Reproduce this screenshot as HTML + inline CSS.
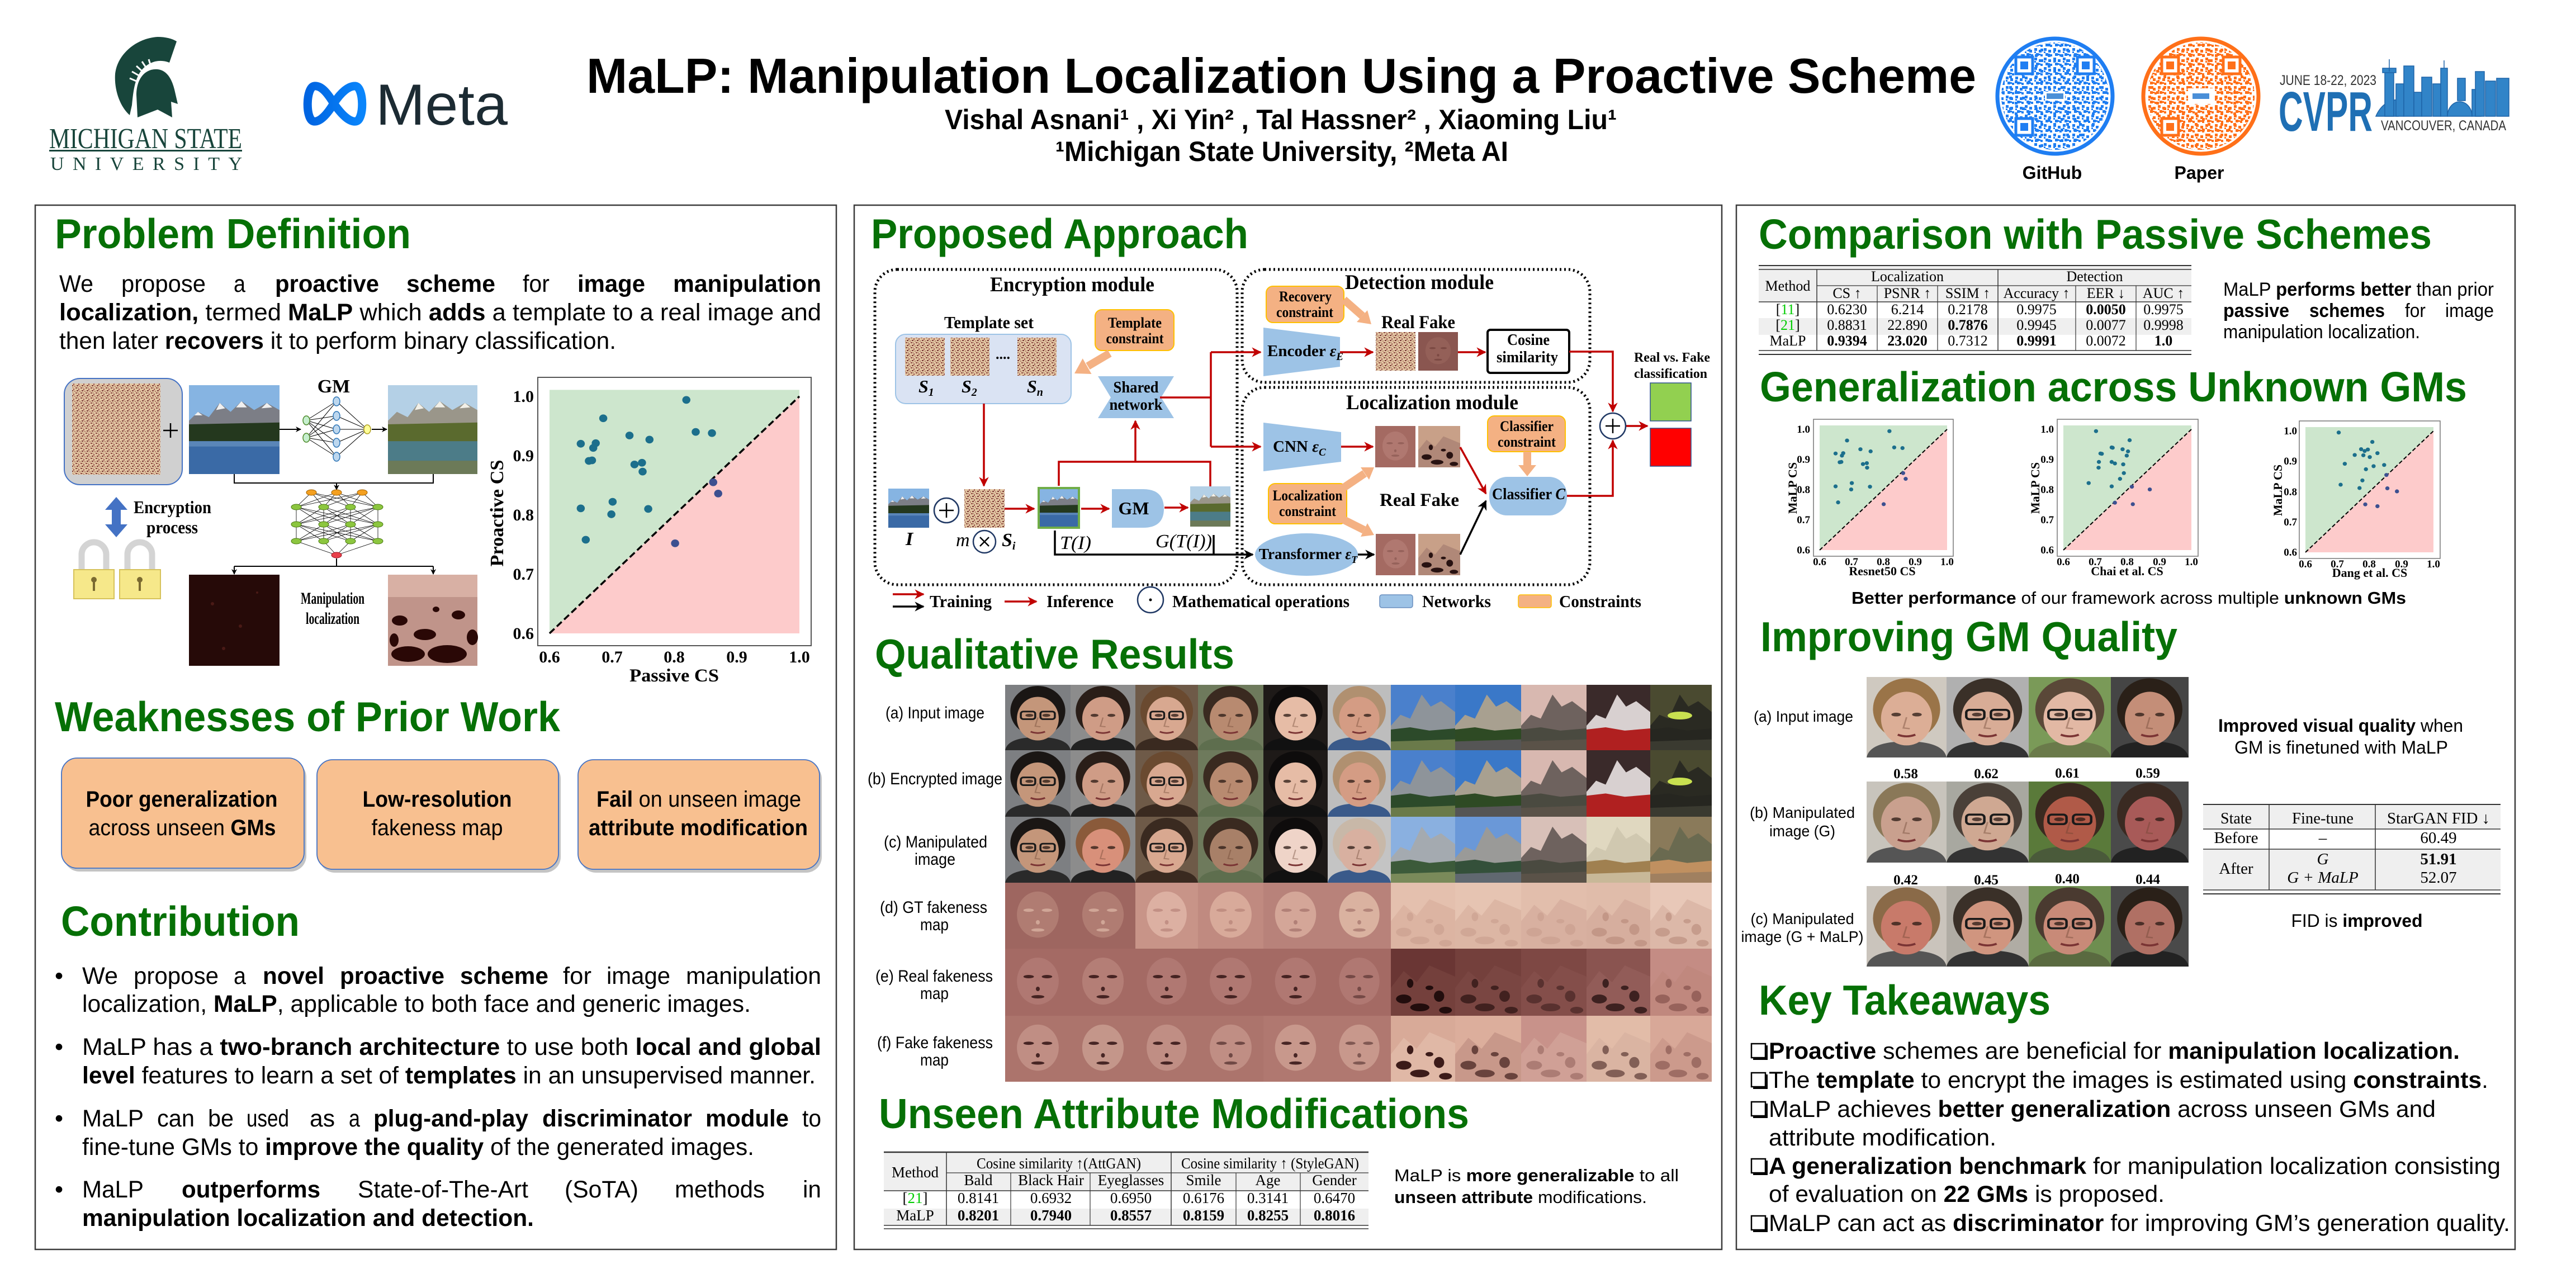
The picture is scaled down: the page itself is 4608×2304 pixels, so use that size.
<!DOCTYPE html>
<html><head><meta charset="utf-8"><title>MaLP poster</title>
<style>
html,body{margin:0;padding:0;background:#fff;}
svg{display:block;}
.s{font-family:"Liberation Sans",Arial,sans-serif;}
.r{font-family:"Liberation Serif","Times New Roman",serif;}
.h{font-family:"Liberation Sans",Arial,sans-serif;font-weight:bold;fill:#067006;font-size:75px;}
.b{font-weight:bold;}
.i{font-style:italic;}
</style></head><body>
<svg width="4608" height="2304" viewBox="0 0 4608 2304" xmlns="http://www.w3.org/2000/svg" xmlns:xlink="http://www.w3.org/1999/xlink">
<defs>
<linearGradient id="mg" x1="0" y1="0" x2="1" y2="0"><stop offset="0" stop-color="#0064e1"/><stop offset="1" stop-color="#0a85fb"/></linearGradient>
<pattern id="nz" width="9" height="9" patternUnits="userSpaceOnUse">
<rect width="9" height="9" fill="#e2c6a2"/>
<rect x="0" y="0" width="3" height="2" fill="#8e4a44"/>
<rect x="5" y="2" width="2" height="3" fill="#a2605a"/>
<rect x="2" y="5" width="3" height="2" fill="#7a3a36"/>
<rect x="7" y="6" width="2" height="2" fill="#b07868"/>
<rect x="4" y="0" width="1" height="1" fill="#6a2e2a"/>
</pattern>
<pattern id="qb" width="17" height="17" patternUnits="userSpaceOnUse">
<rect x="1" y="1" width="5" height="5" fill="#1f7ef2"/><rect x="9" y="4" width="5" height="5" fill="#1f7ef2"/>
<rect x="4" y="10" width="5" height="5" fill="#1f7ef2"/><rect x="12" y="12" width="4" height="4" fill="#1f7ef2"/>
<rect x="9" y="11" width="3" height="3" fill="#1f7ef2"/><rect x="1" y="7" width="3" height="3" fill="#1f7ef2"/>
</pattern>
<pattern id="qb2" width="23" height="19" patternUnits="userSpaceOnUse">
<rect x="6" y="2" width="5" height="5" fill="#1f7ef2"/><rect x="16" y="11" width="5" height="5" fill="#1f7ef2"/>
</pattern>
<pattern id="qo" width="17" height="17" patternUnits="userSpaceOnUse">
<rect x="1" y="1" width="5" height="5" fill="#ff7019"/><rect x="9" y="4" width="5" height="5" fill="#ff7019"/>
<rect x="4" y="10" width="5" height="5" fill="#ff7019"/><rect x="12" y="12" width="4" height="4" fill="#ff7019"/>
<rect x="9" y="11" width="3" height="3" fill="#ff7019"/><rect x="1" y="7" width="3" height="3" fill="#ff7019"/>
</pattern>
<pattern id="qo2" width="23" height="19" patternUnits="userSpaceOnUse">
<rect x="6" y="2" width="5" height="5" fill="#ff7019"/><rect x="16" y="11" width="5" height="5" fill="#ff7019"/>
</pattern>
<clipPath id="qc1"><circle cx="3676" cy="172" r="96"/></clipPath>
<clipPath id="qc2"><circle cx="3937" cy="172" r="96"/></clipPath>

<symbol id="face" viewBox="0 0 100 120" preserveAspectRatio="none">
<rect width="100" height="120" style="fill:var(--bg)"/>
<ellipse cx="50" cy="48" rx="42" ry="46" style="fill:var(--hair)"/>
<path d="M0 120 Q4 96 50 96 Q96 96 100 120Z" style="fill:var(--cloth)"/>
<ellipse cx="50" cy="62" rx="32" ry="40" style="fill:var(--skin)"/>
<g fill="#2a1a14" opacity=".75"><ellipse cx="37" cy="56" rx="6" ry="2.8"/><ellipse cx="63" cy="56" rx="6" ry="2.8"/></g>
<path d="M50 60 L46 76 L54 77" stroke="#6a4030" stroke-width="2" fill="none" opacity=".4"/>
<path d="M39 86 Q50 91 61 86" stroke="#7a3434" stroke-width="3" fill="none"/>
<g fill="none" stroke-width="3" style="stroke:#1a1a1a;stroke-opacity:var(--gl,0)"><rect x="24" y="49" width="22" height="14" rx="4"/><rect x="54" y="49" width="22" height="14" rx="4"/></g>
</symbol>
<symbol id="land" viewBox="0 0 100 120" preserveAspectRatio="none">
<rect width="100" height="120" style="fill:var(--sky)"/>
<path d="M0 75 L15 55 L30 62 L48 18 L62 40 L78 30 L100 50 L100 120 L0 120Z" style="fill:var(--rock)"/>
<path d="M0 82 L30 78 L60 84 L100 80 L100 120 L0 120Z" style="fill:var(--tree)"/>
<path d="M0 104 L100 100 L100 120 L0 120Z" style="fill:var(--gnd)"/>
</symbol>
<symbol id="lake" viewBox="0 0 100 100" preserveAspectRatio="none">
<rect width="100" height="62" fill="#86b4e2"/>
<path d="M0 40 L10 30 L22 36 L34 20 L46 30 L58 18 L72 28 L86 20 L100 28 L100 60 L0 60Z" fill="#7c7e86"/>
<path d="M34 20 L40 26 L30 28Z M58 18 L64 25 L52 25Z M86 20 L92 25 L80 26Z M10 30 L15 34 L6 34Z" fill="#f0f0f0"/>
<path d="M0 44 L100 42 L100 64 L0 64Z" fill="#24381e"/>
<rect y="63" width="100" height="37" fill="#3a6aa6"/>
<rect y="63" width="100" height="6" fill="#5a86b8"/>
</symbol>
<symbol id="lake2" viewBox="0 0 100 100" preserveAspectRatio="none">
<rect width="100" height="62" fill="#b4d0e6"/>
<path d="M0 40 L10 30 L22 36 L34 20 L46 30 L58 18 L72 28 L86 20 L100 28 L100 60 L0 60Z" fill="#9a968a"/>
<path d="M34 20 L40 26 L30 28Z M58 18 L64 25 L52 25Z M86 20 L92 25 L80 26Z" fill="#f2f0e8"/>
<path d="M0 44 L100 42 L100 64 L0 64Z" fill="#5a6a2e"/>
<rect y="63" width="100" height="37" fill="#4c7c88"/>
<rect y="85" width="100" height="15" fill="#6c7a58"/>
</symbol>
<symbol id="pm" viewBox="0 0 100 120" preserveAspectRatio="none">
<rect width="100" height="120" style="fill:var(--base)"/>
<ellipse cx="50" cy="58" rx="32" ry="42" style="fill:var(--lt)"/>
<g style="fill:var(--dk);fill-opacity:var(--o,0.9)">
<ellipse cx="36" cy="50" rx="8" ry="3"/><ellipse cx="64" cy="50" rx="8" ry="3"/>
<ellipse cx="50" cy="72" rx="3" ry="4"/><ellipse cx="50" cy="86" rx="10" ry="3"/>
</g>
</symbol>
<symbol id="pl" viewBox="0 0 100 120" preserveAspectRatio="none">
<rect width="100" height="120" style="fill:var(--base)"/>
<path d="M0 70 L20 40 L40 60 L60 30 L100 50 L100 120 L0 120Z" style="fill:var(--lt)"/>
<g style="fill:var(--dk);fill-opacity:var(--o,0.9)">
<ellipse cx="20" cy="90" rx="12" ry="8"/><ellipse cx="45" cy="105" rx="15" ry="7"/><ellipse cx="75" cy="85" rx="8" ry="10"/><ellipse cx="85" cy="110" rx="10" ry="6"/><ellipse cx="30" cy="62" rx="5" ry="8"/><ellipse cx="60" cy="70" rx="6" ry="4"/>
</g>
</symbol>

<marker id="ar" viewBox="0 0 10 10" refX="9" refY="5" markerWidth="5" markerHeight="5" orient="auto" markerUnits="strokeWidth"><path d="M0 0 L10 5 L0 10 L3 5Z" fill="#c00000"/></marker>
<marker id="ak" viewBox="0 0 10 10" refX="9" refY="5" markerWidth="5" markerHeight="5" orient="auto" markerUnits="strokeWidth"><path d="M0 0 L10 5 L0 10 L3 5Z" fill="#000"/></marker>

<g id="pts1">
<g fill="#1c6f8c">
<circle cx="0.819" cy="0.994" r="0.0065"/><circle cx="0.686" cy="0.963" r="0.0065"/><circle cx="0.728" cy="0.934" r="0.0065"/>
<circle cx="0.760" cy="0.927" r="0.0065"/><circle cx="0.834" cy="0.940" r="0.0065"/><circle cx="0.860" cy="0.938" r="0.0065"/>
<circle cx="0.650" cy="0.920" r="0.0065"/><circle cx="0.674" cy="0.921" r="0.0065"/><circle cx="0.670" cy="0.913" r="0.0065"/>
<circle cx="0.663" cy="0.891" r="0.0065"/><circle cx="0.668" cy="0.892" r="0.0065"/><circle cx="0.736" cy="0.885" r="0.0065"/>
<circle cx="0.748" cy="0.888" r="0.0065"/><circle cx="0.749" cy="0.873" r="0.0065"/><circle cx="0.650" cy="0.811" r="0.0065"/>
<circle cx="0.701" cy="0.822" r="0.0065"/><circle cx="0.699" cy="0.801" r="0.0065"/><circle cx="0.758" cy="0.810" r="0.0065"/>
<circle cx="0.658" cy="0.758" r="0.0065"/>
</g>
<g fill="#3c5090">
<circle cx="0.801" cy="0.752" r="0.0065"/><circle cx="0.862" cy="0.855" r="0.0065"/><circle cx="0.870" cy="0.836" r="0.0065"/>
</g>
</g>
<g id="pts2">
<g fill="#1c6f8c">
<circle cx="0.702" cy="0.994" r="0.0065"/><circle cx="0.807" cy="0.964" r="0.0065"/><circle cx="0.754" cy="0.939" r="0.0065"/>
<circle cx="0.751" cy="0.940" r="0.0065"/><circle cx="0.785" cy="0.934" r="0.0065"/><circle cx="0.802" cy="0.927" r="0.0065"/>
<circle cx="0.716" cy="0.920" r="0.0065"/><circle cx="0.720" cy="0.919" r="0.0065"/><circle cx="0.798" cy="0.913" r="0.0065"/>
<circle cx="0.711" cy="0.892" r="0.0065"/><circle cx="0.751" cy="0.892" r="0.0065"/><circle cx="0.761" cy="0.887" r="0.0065"/>
<circle cx="0.787" cy="0.884" r="0.0065"/><circle cx="0.710" cy="0.873" r="0.0065"/><circle cx="0.789" cy="0.855" r="0.0065"/>
<circle cx="0.777" cy="0.836" r="0.0065"/><circle cx="0.679" cy="0.822" r="0.0065"/><circle cx="0.751" cy="0.811" r="0.0065"/>
</g>
<g fill="#3c5090">
<circle cx="0.814" cy="0.810" r="0.0065"/><circle cx="0.870" cy="0.801" r="0.0065"/><circle cx="0.761" cy="0.757" r="0.0065"/><circle cx="0.817" cy="0.752" r="0.0065"/>
</g>
</g>
<g id="pts3">
<g fill="#1c6f8c">
<circle cx="0.704" cy="0.995" r="0.0065"/><circle cx="0.809" cy="0.964" r="0.0065"/><circle cx="0.774" cy="0.940" r="0.0065"/>
<circle cx="0.795" cy="0.939" r="0.0065"/><circle cx="0.785" cy="0.934" r="0.0065"/><circle cx="0.825" cy="0.927" r="0.0065"/>
<circle cx="0.754" cy="0.921" r="0.0065"/><circle cx="0.781" cy="0.920" r="0.0065"/><circle cx="0.801" cy="0.914" r="0.0065"/>
<circle cx="0.723" cy="0.892" r="0.0065"/><circle cx="0.813" cy="0.884" r="0.0065"/><circle cx="0.846" cy="0.888" r="0.0065"/>
<circle cx="0.789" cy="0.874" r="0.0065"/><circle cx="0.778" cy="0.837" r="0.0065"/><circle cx="0.710" cy="0.823" r="0.0065"/>
<circle cx="0.769" cy="0.812" r="0.0065"/>
</g>
<g fill="#3c5090">
<circle cx="0.853" cy="0.855" r="0.0065"/><circle cx="0.856" cy="0.811" r="0.0065"/><circle cx="0.886" cy="0.801" r="0.0065"/>
<circle cx="0.787" cy="0.758" r="0.0065"/><circle cx="0.825" cy="0.752" r="0.0065"/>
</g>
</g>
</defs>

<rect width="4608" height="2304" fill="#fff"/>

<!-- ================= HEADER ================= -->
<g fill="#18453b">
<path d="M316 74 L303 112 C283 104 262 112 250 130 C240 146 238 168 236 188 L232 206 C214 190 204 160 206 132 C210 96 245 68 282 66 C296 66 308 69 316 74Z"/>
<path d="M246 210 L244 170 C244 138 262 122 282 124 C300 126 308 144 312 160 L318 186 L306 182 L308 210 L282 196 Z"/>
</g>
<g stroke="#fff" stroke-width="3"><path d="M232 140 L246 146 M236 128 L250 136 M244 118 L255 128 M254 110 L262 122 M266 106 L270 119"/></g>
<text x="88" y="265" class="r" font-size="52" fill="#18453b" textLength="345" lengthAdjust="spacingAndGlyphs">MICHIGAN STATE</text>
<rect x="88" y="268" width="345" height="3" fill="#18453b"/>
<text x="90" y="304" class="r" font-size="34" fill="#18453b" textLength="343" lengthAdjust="spacing">UNIVERSITY</text>

<path d="M597 185 C582 160 572 153 562 154 C547 156 546 214 561 217 C572 219 585 205 597 185 C610 165 624 153 636 154 C651 156 652 214 637 217 C625 219 611 205 597 185 Z" fill="none" stroke="url(#mg)" stroke-width="15" stroke-linejoin="round"/>
<text x="672" y="223" class="s" font-size="104" fill="#1c2b33" textLength="236" lengthAdjust="spacingAndGlyphs">Meta</text>

<text x="1049" y="166" class="s b" font-size="88" textLength="2486" lengthAdjust="spacingAndGlyphs">MaLP: Manipulation Localization Using a Proactive Scheme</text>
<text x="1690" y="231" class="s b" font-size="50" textLength="1202" lengthAdjust="spacingAndGlyphs">Vishal Asnani¹ , Xi Yin² , Tal Hassner² , Xiaoming Liu¹</text>
<text x="1888" y="288" class="s b" font-size="50" textLength="810" lengthAdjust="spacingAndGlyphs">¹Michigan State University, ²Meta AI</text>

<!-- QR GitHub -->
<rect x="3570" y="66" width="212" height="212" fill="url(#qb)" clip-path="url(#qc1)"/>
<rect x="3570" y="66" width="212" height="212" fill="url(#qb2)" clip-path="url(#qc1)"/>
<circle cx="3676" cy="172" r="103" fill="none" stroke="#1f7ef2" stroke-width="7"/>
<g fill="#fff" stroke="#1f7ef2" stroke-width="5">
<rect x="3606" y="102" width="30" height="30"/><rect x="3716" y="102" width="30" height="30"/><rect x="3606" y="212" width="30" height="30"/>
</g>
<g fill="#1f7ef2"><rect x="3614" y="110" width="14" height="14"/><rect x="3724" y="110" width="14" height="14"/><rect x="3614" y="220" width="14" height="14"/></g>
<rect x="3658" y="164" width="36" height="16" fill="#fff"/><rect x="3661" y="167" width="30" height="10" fill="#4a8fd8"/>
<!-- QR Paper -->
<rect x="3831" y="66" width="212" height="212" fill="url(#qo)" clip-path="url(#qc2)"/>
<rect x="3831" y="66" width="212" height="212" fill="url(#qo2)" clip-path="url(#qc2)"/>
<circle cx="3937" cy="172" r="103" fill="none" stroke="#ff7019" stroke-width="7"/>
<g fill="#fff" stroke="#ff7019" stroke-width="5">
<rect x="3867" y="102" width="30" height="30"/><rect x="3977" y="102" width="30" height="30"/><rect x="3867" y="212" width="30" height="30"/>
</g>
<g fill="#ff7019"><rect x="3875" y="110" width="14" height="14"/><rect x="3985" y="110" width="14" height="14"/><rect x="3875" y="220" width="14" height="14"/></g>
<rect x="3914" y="158" width="48" height="28" fill="#fff"/><rect x="3922" y="167" width="30" height="10" fill="#4a8fd8"/>
<text x="3671" y="320" text-anchor="middle" class="s b" font-size="32">GitHub</text>
<text x="3934" y="320" text-anchor="middle" class="s b" font-size="32">Paper</text>

<!-- CVPR -->
<text x="4078" y="152" class="s" font-size="25" fill="#333" textLength="173" lengthAdjust="spacingAndGlyphs">JUNE 18-22, 2023</text>
<text x="4076" y="234" class="s b" font-size="100" fill="#1f6fb4" textLength="168" lengthAdjust="spacingAndGlyphs">CVPR</text>
<g fill="#3184c8" stroke="#1f64a8" stroke-width="1.5">
<path d="M4250 208 Q4262 180 4290 178 L4290 208Z"/>
<rect x="4266" y="128" width="16" height="80"/>
<rect x="4262" y="122" width="24" height="8"/>
<rect x="4286" y="150" width="14" height="58"/>
<rect x="4300" y="118" width="18" height="90"/>
<rect x="4318" y="165" width="14" height="43"/>
<rect x="4332" y="138" width="18" height="70"/>
<rect x="4352" y="150" width="14" height="58"/>
<rect x="4366" y="122" width="12" height="86"/>
<path d="M4378 208 A22 26 0 0 1 4422 208Z"/>
<rect x="4396" y="140" width="14" height="40"/>
<rect x="4422" y="160" width="16" height="48"/>
<rect x="4428" y="128" width="16" height="80"/>
<rect x="4446" y="145" width="18" height="63"/>
<rect x="4466" y="140" width="22" height="68"/>
<path d="M4274 128 V106 M4372 122 V108" fill="none"/>
</g>
<text x="4259" y="233" class="s" font-size="25" fill="#333" textLength="224" lengthAdjust="spacingAndGlyphs">VANCOUVER, CANADA</text>

<!-- ================= PANELS ================= -->
<g fill="none" stroke="#3c3c3c" stroke-width="2.5">
<rect x="63" y="367" width="1433" height="1868"/>
<rect x="1528" y="367" width="1552" height="1868"/>
<rect x="3106" y="367" width="1393" height="1868"/>
</g>

<!-- ================= LEFT PANEL ================= -->
<text class="h" x="98" y="444" textLength="637" lengthAdjust="spacingAndGlyphs">Problem Definition</text>
<g class="s" font-size="43">
<text x="106" y="522" textLength="61" lengthAdjust="spacingAndGlyphs">We</text>
<text x="217" y="522" textLength="151" lengthAdjust="spacingAndGlyphs">propose</text>
<text x="418" y="522" textLength="21" lengthAdjust="spacingAndGlyphs">a</text>
<text x="492" y="522" class="b" textLength="186" lengthAdjust="spacingAndGlyphs">proactive</text>
<text x="727" y="522" class="b" textLength="159" lengthAdjust="spacingAndGlyphs">scheme</text>
<text x="935" y="522" textLength="48" lengthAdjust="spacingAndGlyphs">for</text>
<text x="1033" y="522" class="b" textLength="121" lengthAdjust="spacingAndGlyphs">image</text>
<text x="1204" y="522" class="b" textLength="265" lengthAdjust="spacingAndGlyphs">manipulation</text>
<text x="106" y="573" textLength="1363" lengthAdjust="spacingAndGlyphs"><tspan font-weight="bold">localization,</tspan> termed <tspan font-weight="bold">MaLP</tspan> which <tspan font-weight="bold">adds</tspan> a template to a real image and</text>
<text x="106" y="624" textLength="996" lengthAdjust="spacingAndGlyphs">then later <tspan font-weight="bold">recovers</tspan> it to perform binary classification.</text>
</g>

<!-- figure -->
<rect x="115" y="677" width="211" height="190" rx="28" fill="#d0d0d0" stroke="#4472c4" stroke-width="2"/>
<rect x="129" y="686" width="158" height="163" fill="url(#nz)"/>
<path d="M292 770 H318 M305 757 V783" stroke="#000" stroke-width="2.5"/>
<use href="#lake" x="338" y="689" width="162" height="159"/>
<use href="#lake2" x="694" y="689" width="160" height="159"/>
<text x="597" y="702" text-anchor="middle" class="r b" font-size="34">GM</text>
<g stroke="#000" stroke-width="1">
<path d="M548 752L602 718M548 752L602 744M548 752L602 768M548 752L602 792M548 752L602 817M548 783L602 718M548 783L602 744M548 783L602 768M548 783L602 792M548 783L602 817M602 718L657 768M602 744L657 768M602 768L657 768M602 792L657 768M602 817L657 768"/>
</g>
<g stroke-width="1.5">
<ellipse cx="548" cy="752" rx="6" ry="8" fill="#c6efce" stroke="#4e8a2a"/><ellipse cx="548" cy="783" rx="6" ry="8" fill="#c6efce" stroke="#4e8a2a"/>
<ellipse cx="602" cy="718" rx="6" ry="8" fill="#bdd7ee" stroke="#2e75b6"/><ellipse cx="602" cy="744" rx="6" ry="8" fill="#bdd7ee" stroke="#2e75b6"/>
<ellipse cx="602" cy="768" rx="6" ry="8" fill="#bdd7ee" stroke="#2e75b6"/><ellipse cx="602" cy="792" rx="6" ry="8" fill="#bdd7ee" stroke="#2e75b6"/>
<ellipse cx="602" cy="817" rx="6" ry="8" fill="#bdd7ee" stroke="#2e75b6"/>
<ellipse cx="657" cy="768" rx="6" ry="8" fill="#ffff99" stroke="#b0a020"/>
</g>
<g stroke="#000" stroke-width="2" fill="none">
<path d="M500 768 H538" marker-end="url(#ak)"/>
<path d="M665 768 H692" marker-end="url(#ak)"/>
<path d="M419 848 V864 H775 V848"/>
<path d="M602 864 V876" marker-end="url(#ak)"/>
<path d="M602 999 V1013 M419 1013 H775"/>
<path d="M419 1013 V1027" marker-end="url(#ak)"/>
<path d="M775 1013 V1027" marker-end="url(#ak)"/>
</g>
<g stroke="#000" stroke-width="0.8">
<path d="M557 881L530 907M557 881L579 907M557 881L627 907M557 881L676 907M602 881L530 907M602 881L579 907M602 881L627 907M602 881L676 907M648 881L530 907M648 881L579 907M648 881L627 907M648 881L676 907"/>
<path d="M530 907L530 938M530 907L579 938M530 907L627 938M530 907L676 938M579 907L530 938M579 907L579 938M579 907L627 938M579 907L676 938M627 907L530 938M627 907L579 938M627 907L627 938M627 907L676 938M676 907L530 938M676 907L579 938M676 907L627 938M676 907L676 938"/>
<path d="M530 938L530 968M530 938L579 968M530 938L627 968M530 938L676 968M579 938L530 968M579 938L579 968M579 938L627 968M579 938L676 968M627 938L530 968M627 938L579 968M627 938L627 968M627 938L676 968M676 938L530 968M676 938L579 968M676 938L627 968M676 938L676 968"/>
<path d="M530 968L602 993M579 968L602 993M627 968L602 993M676 968L602 993"/>
</g>
<g stroke-width="1">
<ellipse cx="557" cy="881" rx="9" ry="5" fill="#f4a020" stroke="#a06000"/><ellipse cx="602" cy="881" rx="9" ry="5" fill="#f4a020" stroke="#a06000"/><ellipse cx="648" cy="881" rx="9" ry="5" fill="#f4a020" stroke="#a06000"/>
<g fill="#8cc63f" stroke="#4a7a10">
<ellipse cx="530" cy="907" rx="9" ry="5"/><ellipse cx="579" cy="907" rx="9" ry="5"/><ellipse cx="627" cy="907" rx="9" ry="5"/><ellipse cx="676" cy="907" rx="9" ry="5"/>
<ellipse cx="530" cy="938" rx="9" ry="5"/><ellipse cx="579" cy="938" rx="9" ry="5"/><ellipse cx="627" cy="938" rx="9" ry="5"/><ellipse cx="676" cy="938" rx="9" ry="5"/>
<ellipse cx="530" cy="968" rx="9" ry="5"/><ellipse cx="579" cy="968" rx="9" ry="5"/><ellipse cx="627" cy="968" rx="9" ry="5"/><ellipse cx="676" cy="968" rx="9" ry="5"/>
</g>
<ellipse cx="602" cy="993" rx="9" ry="5" fill="#e8404a" stroke="#a01020"/>
</g>
<rect x="338" y="1028" width="162" height="163" fill="#260a08"/>
<g fill="#4a1a16"><circle cx="380" cy="1080" r="3"/><circle cx="430" cy="1120" r="3"/><circle cx="460" cy="1060" r="2"/><circle cx="400" cy="1160" r="3"/></g>
<rect x="694" y="1028" width="160" height="163" fill="#c0948a"/>
<rect x="694" y="1028" width="160" height="40" fill="#d8b0a4"/>
<g fill="#2a0806">
<ellipse cx="715" cy="1110" rx="14" ry="9"/><ellipse cx="760" cy="1135" rx="20" ry="10"/><ellipse cx="820" cy="1100" rx="12" ry="8"/>
<ellipse cx="730" cy="1170" rx="30" ry="14"/><ellipse cx="800" cy="1170" rx="35" ry="16"/><ellipse cx="845" cy="1140" rx="10" ry="14"/>
<ellipse cx="780" cy="1090" rx="6" ry="5"/><ellipse cx="705" cy="1145" rx="8" ry="12"/>
</g>
<text x="595" y="1080" text-anchor="middle" class="r b" font-size="30" textLength="114" lengthAdjust="spacingAndGlyphs">Manipulation</text>
<text x="595" y="1116" text-anchor="middle" class="r b" font-size="30" textLength="96" lengthAdjust="spacingAndGlyphs">localization</text>
<path d="M208 889 L228 912 L216 912 L216 938 L228 938 L208 961 L188 938 L200 938 L200 912 L188 912Z" fill="#4472c4"/>
<text x="239" y="918" class="r b" font-size="32" textLength="139" lengthAdjust="spacingAndGlyphs">Encryption</text>
<text x="308" y="954" text-anchor="middle" class="r b" font-size="32" textLength="92" lengthAdjust="spacingAndGlyphs">process</text>
<g fill="none" stroke="#d4d4d4" stroke-width="11">
<path d="M146 1019 V992 A22 22 0 0 1 190 992 V1019"/>
<path d="M228 1019 V992 A22 22 0 0 1 272 992 V1019"/>
</g>
<rect x="132" y="1019" width="72" height="52" fill="#f6e88a" stroke="#d6c25a" stroke-width="2"/>
<rect x="214" y="1019" width="73" height="52" fill="#f6e88a" stroke="#d6c25a" stroke-width="2"/>
<g fill="#7a6a30"><circle cx="168" cy="1037" r="5"/><rect x="166" y="1039" width="4" height="18"/><circle cx="250" cy="1037" r="5"/><rect x="248" y="1039" width="4" height="18"/></g>

<!-- main scatter plot -->
<rect x="962" y="675" width="489" height="480" fill="#fff" stroke="#555" stroke-width="2"/>
<g transform="translate(983,1133) scale(1117.5,-1060) translate(-0.6,-0.6)">
<polygon points="0.6,0.6 0.6,1.011 1,1.011 1,1" fill="#cde6cd"/>
<polygon points="0.6,0.6 1,1 1,0.6" fill="#fdcbcb"/>
</g>
<line x1="983" y1="1133" x2="1430" y2="709" stroke="#000" stroke-width="3.5" stroke-dasharray="12 6"/>
<g transform="translate(983,1133) scale(1117.5,-1060) translate(-0.6,-0.6)"><use href="#pts1"/></g>
<g class="r b" font-size="30" text-anchor="end">
<text x="955" y="719">1.0</text><text x="955" y="825">0.9</text><text x="955" y="931">0.8</text><text x="955" y="1037">0.7</text><text x="955" y="1143">0.6</text>
</g>
<g class="r b" font-size="30" text-anchor="middle">
<text x="983" y="1185">0.6</text><text x="1095" y="1185">0.7</text><text x="1206" y="1185">0.8</text><text x="1318" y="1185">0.9</text><text x="1430" y="1185">1.0</text>
</g>
<text x="1206" y="1219" text-anchor="middle" class="r b" font-size="33" textLength="160" lengthAdjust="spacingAndGlyphs">Passive CS</text>
<text transform="translate(900,918) rotate(-90)" text-anchor="middle" class="r b" font-size="34" textLength="191" lengthAdjust="spacingAndGlyphs">Proactive CS</text>

<text class="h" x="98" y="1308" textLength="904" lengthAdjust="spacingAndGlyphs">Weaknesses of Prior Work</text>
<g fill="#c4c4c4">
<rect x="114" y="1362" width="434" height="197" rx="28"/><rect x="571" y="1365" width="432" height="196" rx="28"/><rect x="1038" y="1365" width="432" height="196" rx="28"/>
</g>
<g fill="#f8c090" stroke="#4472c4" stroke-width="1.8">
<rect x="110" y="1356" width="434" height="197" rx="28"/><rect x="567" y="1359" width="432" height="196" rx="28"/><rect x="1034" y="1359" width="432" height="196" rx="28"/>
</g>
<g class="s" font-size="40" text-anchor="middle">
<text x="325" y="1443" class="b" textLength="343" lengthAdjust="spacingAndGlyphs">Poor generalization</text>
<text x="326" y="1494" textLength="335" lengthAdjust="spacingAndGlyphs">across unseen <tspan font-weight="bold">GMs</tspan></text>
<text x="782" y="1443" class="b" textLength="267" lengthAdjust="spacingAndGlyphs">Low-resolution</text>
<text x="782" y="1494" textLength="235" lengthAdjust="spacingAndGlyphs">fakeness map</text>
<text x="1250" y="1443" textLength="366" lengthAdjust="spacingAndGlyphs"><tspan font-weight="bold">Fail</tspan> on unseen image</text>
<text x="1249" y="1494" class="b" textLength="392" lengthAdjust="spacingAndGlyphs">attribute modification</text>
</g>

<text class="h" x="109" y="1674" textLength="427" lengthAdjust="spacingAndGlyphs">Contribution</text>
<g class="s" font-size="43">
<text x="98" y="1760">•</text><text x="98" y="1887">•</text><text x="98" y="2015">•</text><text x="98" y="2142">•</text>
<text x="147" y="1760" textLength="64" lengthAdjust="spacingAndGlyphs">We</text>
<text x="239" y="1760" textLength="152" lengthAdjust="spacingAndGlyphs">propose</text>
<text x="418" y="1760" textLength="22" lengthAdjust="spacingAndGlyphs">a</text>
<text x="470" y="1760" class="b" textLength="110" lengthAdjust="spacingAndGlyphs">novel</text>
<text x="608" y="1760" class="b" textLength="187" lengthAdjust="spacingAndGlyphs">proactive</text>
<text x="823" y="1760" class="b" textLength="158" lengthAdjust="spacingAndGlyphs">scheme</text>
<text x="1007" y="1760" textLength="51" lengthAdjust="spacingAndGlyphs">for</text>
<text x="1085" y="1760" textLength="114" lengthAdjust="spacingAndGlyphs">image</text>
<text x="1227" y="1760" textLength="242" lengthAdjust="spacingAndGlyphs">manipulation</text>
<text x="147" y="1810" textLength="1196" lengthAdjust="spacingAndGlyphs">localization, <tspan font-weight="bold">MaLP</tspan>, applicable to both face and generic images.</text>
<text x="147" y="1887" textLength="1322" lengthAdjust="spacingAndGlyphs">MaLP has a <tspan font-weight="bold">two-branch architecture</tspan> to use both <tspan font-weight="bold">local and global</tspan></text>
<text x="147" y="1938" textLength="1312" lengthAdjust="spacingAndGlyphs"><tspan font-weight="bold">level</tspan> features to learn a set of <tspan font-weight="bold">templates</tspan> in an unsupervised manner.</text>
<text x="147" y="2015" textLength="110" lengthAdjust="spacingAndGlyphs">MaLP</text>
<text x="281" y="2015" textLength="67" lengthAdjust="spacingAndGlyphs">can</text>
<text x="372" y="2015" textLength="46" lengthAdjust="spacingAndGlyphs">be</text>
<text x="441" y="2015" textLength="76" lengthAdjust="spacingAndGlyphs">used</text>
<text x="554" y="2015" textLength="45" lengthAdjust="spacingAndGlyphs">as</text>
<text x="624" y="2015" textLength="20" lengthAdjust="spacingAndGlyphs">a</text>
<text x="668" y="2015" class="b" textLength="277" lengthAdjust="spacingAndGlyphs">plug-and-play</text>
<text x="970" y="2015" class="b" textLength="268" lengthAdjust="spacingAndGlyphs">discriminator</text>
<text x="1262" y="2015" class="b" textLength="149" lengthAdjust="spacingAndGlyphs">module</text>
<text x="1435" y="2015" textLength="34" lengthAdjust="spacingAndGlyphs">to</text>
<text x="147" y="2066" textLength="1202" lengthAdjust="spacingAndGlyphs">fine-tune GMs to <tspan font-weight="bold">improve the quality</tspan> of the generated images.</text>
<text x="147" y="2142" textLength="110" lengthAdjust="spacingAndGlyphs">MaLP</text>
<text x="325" y="2142" class="b" textLength="248" lengthAdjust="spacingAndGlyphs">outperforms</text>
<text x="640" y="2142" textLength="305" lengthAdjust="spacingAndGlyphs">State-of-The-Art</text>
<text x="1010" y="2142" textLength="132" lengthAdjust="spacingAndGlyphs">(SoTA)</text>
<text x="1207" y="2142" textLength="161" lengthAdjust="spacingAndGlyphs">methods</text>
<text x="1436" y="2142" textLength="33" lengthAdjust="spacingAndGlyphs">in</text>
<text x="147" y="2193" class="b" textLength="808" lengthAdjust="spacingAndGlyphs">manipulation localization and detection.</text>
</g>

<!-- ================= MIDDLE PANEL ================= -->
<text class="h" x="1558" y="444" textLength="675" lengthAdjust="spacingAndGlyphs">Proposed Approach</text>

<g fill="none" stroke="#000" stroke-width="5" stroke-dasharray="3 5">
<rect x="1565" y="482" width="648" height="564" rx="40"/>
<rect x="2222" y="482" width="622" height="202" rx="40"/>
<rect x="2222" y="693" width="622" height="353" rx="40"/>
</g>
<g class="r b">
<text x="1771" y="521" font-size="37" textLength="294" lengthAdjust="spacingAndGlyphs">Encryption module</text>
<text x="2406" y="517" font-size="37" textLength="266" lengthAdjust="spacingAndGlyphs">Detection module</text>
<text x="2408" y="732" font-size="37" textLength="308" lengthAdjust="spacingAndGlyphs">Localization module</text>
<text x="1689" y="587" font-size="31" textLength="160" lengthAdjust="spacingAndGlyphs">Template set</text>
</g>
<rect x="1602" y="598" width="314" height="124" rx="18" fill="#dae3f3" stroke="#9dc3e6" stroke-width="2"/>
<rect x="1619" y="604" width="71" height="68" fill="url(#nz)"/>
<rect x="1700" y="604" width="70" height="68" fill="url(#nz)"/>
<rect x="1820" y="604" width="70" height="68" fill="url(#nz)"/>
<text x="1781" y="642" class="r b" font-size="26">....</text>
<g class="r b i" font-size="32">
<text x="1643" y="702">S<tspan font-size="20" dy="6">1</tspan></text>
<text x="1720" y="702">S<tspan font-size="20" dy="6">2</tspan></text>
<text x="1837" y="702">S<tspan font-size="20" dy="6">n</tspan></text>
</g>
<g fill="#f4b183" stroke="#ffc000" stroke-width="2">
<rect x="1959" y="554" width="141" height="73" rx="12"/>
<rect x="2265" y="512" width="139" height="65" rx="12"/>
<rect x="2661" y="744" width="139" height="64" rx="12"/>
<rect x="2269" y="865" width="140" height="72" rx="12"/>
</g>
<g class="r b" font-size="26" text-anchor="middle">
<text x="2030" y="586" textLength="96" lengthAdjust="spacingAndGlyphs">Template</text>
<text x="2030" y="614" textLength="103" lengthAdjust="spacingAndGlyphs">constraint</text>
<text x="2335" y="539" textLength="94" lengthAdjust="spacingAndGlyphs">Recovery</text>
<text x="2334" y="567" textLength="102" lengthAdjust="spacingAndGlyphs">constraint</text>
<text x="2731" y="771" textLength="96" lengthAdjust="spacingAndGlyphs">Classifier</text>
<text x="2731" y="799" textLength="104" lengthAdjust="spacingAndGlyphs">constraint</text>
<text x="2339" y="895" textLength="125" lengthAdjust="spacingAndGlyphs">Localization</text>
<text x="2339" y="923" textLength="102" lengthAdjust="spacingAndGlyphs">constraint</text>
</g>
<!-- orange arrows -->
<g stroke="#f4b183" stroke-width="14" fill="none">
<path d="M1985 632 L1946 655"/>
<path d="M2404 536 L2437 565"/>
<path d="M2732 808 L2732 832"/>
<path d="M2404 872 L2441 847"/>
<path d="M2404 930 L2440 948"/>
</g>
<g fill="#f4b183">
<polygon points="1922,668 1952.5,669 1936.7,641.2"/>
<polygon points="2453,580 2427,576 2446,555"/>
<polygon points="2716,832 2748,832 2732,852"/>
<polygon points="2458,836 2449,858 2434,836"/>
<polygon points="2458,957 2434,960 2446,936"/>
</g>
<!-- networks -->
<g fill="#9dc3e6">
<polygon points="1964,673 2100,673 2077,711 2100,748 1964,748 1987,711"/>
<path d="M1989 875 L2045 875 Q2082 875 2082 910 Q2082 944 2045 944 L1989 944 Z"/>
<polygon points="2260,586 2397,603 2397,656 2260,673"/>
<polygon points="2260,756 2399,773 2399,826 2260,843"/>
<rect x="2664" y="853" width="139" height="69" rx="32"/>
<ellipse cx="2337" cy="992" rx="92" ry="38"/>
</g>
<g class="r b" font-size="29">
<text x="2032" y="702" text-anchor="middle" textLength="81" lengthAdjust="spacingAndGlyphs">Shared</text>
<text x="2032" y="733" text-anchor="middle" textLength="95" lengthAdjust="spacingAndGlyphs">network</text>
<text x="2028" y="920" text-anchor="middle" font-size="32">GM</text>
<text x="2267" y="637">Encoder <tspan font-style="italic">ε</tspan><tspan font-size="19" dy="7" font-style="italic">E</tspan></text>
<text x="2277" y="808">CNN <tspan font-style="italic">ε</tspan><tspan font-size="19" dy="7" font-style="italic">C</tspan></text>
<text x="2669" y="893" textLength="131" lengthAdjust="spacingAndGlyphs">Classifier <tspan font-style="italic">C</tspan></text>
<text x="2252" y="1000" font-size="27">Transformer <tspan font-style="italic">ε</tspan><tspan font-size="18" dy="7" font-style="italic">T</tspan></text>
</g>
<!-- images diagram -->
<use href="#lake" x="1589" y="874" width="73" height="70"/>
<rect x="1725" y="875" width="72" height="69" fill="url(#nz)"/>
<rect x="1856" y="871" width="76" height="75" fill="#70ad47"/>
<use href="#lake" x="1860" y="875" width="68" height="67"/>
<use href="#lake2" x="2129" y="870" width="72" height="72"/>
<rect x="2461" y="594" width="71" height="69" fill="url(#nz)"/>
<use href="#pm" x="2537" y="594" width="71" height="69" style="--base:#8a5650;--lt:#946058;--dk:#6a3a36;--o:.6"/>
<use href="#pm" x="2460" y="762" width="72" height="74" style="--base:#a46a62;--lt:#b07870;--dk:#7a4a44;--o:.5"/>
<use href="#pl" x="2537" y="762" width="75" height="74" style="--base:#c8a088;--lt:#b08878;--dk:#1a0606"/>
<use href="#pm" x="2461" y="955" width="71" height="74" style="--base:#a46a62;--lt:#b07870;--dk:#7a4a44;--o:.5"/>
<use href="#pl" x="2537" y="955" width="75" height="74" style="--base:#c8a088;--lt:#b08878;--dk:#1a0606"/>
<g class="r b" font-size="33">
<text x="2471" y="587" textLength="132" lengthAdjust="spacingAndGlyphs">Real Fake</text>
<text x="2468" y="905" textLength="142" lengthAdjust="spacingAndGlyphs">Real  Fake</text>
</g>
<rect x="2661" y="590" width="146" height="77" rx="5" fill="#fff" stroke="#000" stroke-width="4"/>
<g class="r b" font-size="28" text-anchor="middle">
<text x="2734" y="617" textLength="76" lengthAdjust="spacingAndGlyphs">Cosine</text>
<text x="2732" y="648" textLength="110" lengthAdjust="spacingAndGlyphs">similarity</text>
</g>
<g class="r b" font-size="24">
<text x="2923" y="647" textLength="136" lengthAdjust="spacingAndGlyphs">Real vs. Fake</text>
<text x="2923" y="676" textLength="131" lengthAdjust="spacingAndGlyphs">classification</text>
</g>
<rect x="2952" y="685" width="73" height="68" fill="#92d050" stroke="#2f528f" stroke-width="1.5"/>
<rect x="2952" y="766" width="73" height="68" fill="#ff0000" stroke="#2f528f" stroke-width="1.5"/>
<!-- red connectors -->
<g stroke="#c00000" stroke-width="3.5" fill="none">
<path d="M1760 722 V869" marker-end="url(#ar)"/>
<path d="M1797 910 H1850" marker-end="url(#ar)"/>
<path d="M1934 910 H1984" marker-end="url(#ar)"/>
<path d="M2083 908 H2125" marker-end="url(#ar)"/>
<path d="M1894 869 V826 H2165 V870"/>
<path d="M2031 826 V753" marker-end="url(#ar)"/>
<path d="M2075 711 H2166 M2166 630 V799"/>
<path d="M2166 630 H2255" marker-end="url(#ar)"/>
<path d="M2166 799 H2255" marker-end="url(#ar)"/>
<path d="M2397 630 H2456" marker-end="url(#ar)"/>
<path d="M2608 630 H2657" marker-end="url(#ar)"/>
<path d="M2807 629 H2885 V736" marker-end="url(#ar)"/>
<path d="M2908 762 H2947" marker-end="url(#ar)"/>
<path d="M2803 887 H2885 V788" marker-end="url(#ar)"/>
<path d="M2399 799 H2456" marker-end="url(#ar)"/>
<path d="M2612 800 L2658 883" marker-end="url(#ar)"/>
</g>
<g stroke="#000" stroke-width="3.5" fill="none">
<path d="M1887 949 V992 H2241" marker-end="url(#ak)"/>
<path d="M2171 957 V992"/>
<path d="M2429 992 H2458" marker-end="url(#ak)"/>
<path d="M2612 992 L2658 896" marker-end="url(#ak)"/>
</g>
<!-- circle ops -->
<g fill="#fff" stroke="#203864" stroke-width="2.5">
<circle cx="1693" cy="913" r="22"/><circle cx="2885" cy="762" r="23"/><circle cx="1761" cy="969" r="20"/><circle cx="2058" cy="1073" r="23"/>
</g>
<path d="M1680 913 H1706 M1693 900 V926 M2872 762 H2898 M2885 749 V775 M1753 961 L1769 977 M1769 961 L1753 977" stroke="#000" stroke-width="2.5"/>
<circle cx="2058" cy="1073" r="2.5" fill="#000"/>
<g class="r i" font-size="34">
<text x="1620" y="975" font-weight="bold">I</text>
<text x="1710" y="977">m</text>
<text x="1792" y="977" font-weight="bold">S<tspan font-size="20" dy="6">i</tspan></text>
<text x="1896" y="982" textLength="56" lengthAdjust="spacingAndGlyphs">T(I)</text>
<text x="2067" y="979" textLength="101" lengthAdjust="spacingAndGlyphs">G(T(I))</text>
</g>
<!-- legend -->
<path d="M1597 1063 H1652" stroke="#c00000" stroke-width="3.5" marker-end="url(#ar)"/>
<path d="M1597 1085 H1652" stroke="#000" stroke-width="3.5" marker-end="url(#ak)"/>
<path d="M1797 1076 H1854" stroke="#c00000" stroke-width="3.5" marker-end="url(#ar)"/>
<rect x="2468" y="1064" width="59" height="23" rx="4" fill="#9dc3e6" stroke="#6a8fbf" stroke-width="1.5"/>
<rect x="2716" y="1064" width="59" height="23" rx="4" fill="#f4b183" stroke="#ffc000" stroke-width="1.5"/>
<g class="r b" font-size="31">
<text x="1663" y="1086" textLength="111" lengthAdjust="spacingAndGlyphs">Training</text>
<text x="1872" y="1086" textLength="120" lengthAdjust="spacingAndGlyphs">Inference</text>
<text x="2097" y="1086" textLength="317" lengthAdjust="spacingAndGlyphs">Mathematical operations</text>
<text x="2544" y="1086" textLength="123" lengthAdjust="spacingAndGlyphs">Networks</text>
<text x="2789" y="1086" textLength="147" lengthAdjust="spacingAndGlyphs">Constraints</text>
</g>

<!-- Qualitative results -->
<text class="h" x="1565" y="1196" textLength="643" lengthAdjust="spacingAndGlyphs">Qualitative Results</text>
<g class="s" font-size="30">
<text x="1584" y="1285" textLength="177" lengthAdjust="spacingAndGlyphs">(a) Input image</text>
<text x="1552" y="1403" textLength="241" lengthAdjust="spacingAndGlyphs">(b) Encrypted image</text>
<text x="1581" y="1516" textLength="185" lengthAdjust="spacingAndGlyphs">(c) Manipulated</text>
<text x="1636" y="1547" textLength="73" lengthAdjust="spacingAndGlyphs">image</text>
<text x="1574" y="1633" textLength="192" lengthAdjust="spacingAndGlyphs">(d) GT fakeness</text>
<text x="1646" y="1664" textLength="51" lengthAdjust="spacingAndGlyphs">map</text>
<text x="1566" y="1756" textLength="210" lengthAdjust="spacingAndGlyphs">(e) Real fakeness</text>
<text x="1646" y="1787" textLength="51" lengthAdjust="spacingAndGlyphs">map</text>
<text x="1569" y="1875" textLength="207" lengthAdjust="spacingAndGlyphs">(f) Fake fakeness</text>
<text x="1646" y="1906" textLength="51" lengthAdjust="spacingAndGlyphs">map</text>
</g>
<!-- row a -->
<use href="#face" x="1798" y="1225" width="117" height="117" style="--bg:#7d7f82;--hair:#1a1614;--skin:#c4967a;--cloth:#2a2a2a;--gl:1"/>
<use href="#face" x="1915" y="1225" width="116" height="117" style="--bg:#8c8c8c;--hair:#2a1e18;--skin:#cf9c86;--cloth:#222;--gl:0"/>
<use href="#face" x="2031" y="1225" width="112" height="117" style="--bg:#6e5a48;--hair:#6a4a30;--skin:#d8a890;--cloth:#3a2a20;--gl:1"/>
<use href="#face" x="2143" y="1225" width="117" height="117" style="--bg:#6e7a5c;--hair:#3a2a20;--skin:#b88a70;--cloth:#5e6e4e;--gl:0"/>
<use href="#face" x="2260" y="1225" width="115" height="117" style="--bg:#1e1a18;--hair:#0e0c0c;--skin:#e6bca6;--cloth:#111;--gl:0"/>
<use href="#face" x="2375" y="1225" width="113" height="117" style="--bg:#bdbdbd;--hair:#b09070;--skin:#d49c84;--cloth:#3a5a8a;--gl:0"/>
<use href="#land" x="2488" y="1225" width="115" height="117" style="--sky:#4a80cc;--rock:#8e949a;--tree:#2c4a2a;--gnd:#6a7a4a"/>
<use href="#land" x="2603" y="1225" width="118" height="117" style="--sky:#3a78c8;--rock:#a8a090;--tree:#2e4a24;--gnd:#555"/>
<use href="#land" x="2721" y="1225" width="117" height="117" style="--sky:#d8b8b0;--rock:#6e625e;--tree:#4a4a40;--gnd:#5a5248"/>
<use href="#land" x="2838" y="1225" width="114" height="117" style="--sky:#3a2a2a;--rock:#d8d0d0;--tree:#b02020;--gnd:#b02020"/>
<use href="#land" x="2952" y="1225" width="110" height="117" style="--sky:#4a4a30;--rock:#2a2a22;--tree:#262620;--gnd:#3a3a30"/>
<ellipse cx="3005" cy="1280" rx="22" ry="7" fill="#c8e050"/>
<!-- row b -->
<use href="#face" x="1798" y="1342" width="117" height="119" style="--bg:#7d7f82;--hair:#1a1614;--skin:#c4967a;--cloth:#2a2a2a;--gl:1"/>
<use href="#face" x="1915" y="1342" width="116" height="119" style="--bg:#8c8c8c;--hair:#2a1e18;--skin:#cf9c86;--cloth:#222;--gl:0"/>
<use href="#face" x="2031" y="1342" width="112" height="119" style="--bg:#6e5a48;--hair:#6a4a30;--skin:#d8a890;--cloth:#3a2a20;--gl:1"/>
<use href="#face" x="2143" y="1342" width="117" height="119" style="--bg:#6e7a5c;--hair:#3a2a20;--skin:#b88a70;--cloth:#5e6e4e;--gl:0"/>
<use href="#face" x="2260" y="1342" width="115" height="119" style="--bg:#1e1a18;--hair:#0e0c0c;--skin:#e6bca6;--cloth:#111;--gl:0"/>
<use href="#face" x="2375" y="1342" width="113" height="119" style="--bg:#bdbdbd;--hair:#b09070;--skin:#d49c84;--cloth:#3a5a8a;--gl:0"/>
<use href="#land" x="2488" y="1342" width="115" height="119" style="--sky:#4a80cc;--rock:#8e949a;--tree:#2c4a2a;--gnd:#6a7a4a"/>
<use href="#land" x="2603" y="1342" width="118" height="119" style="--sky:#3a78c8;--rock:#a8a090;--tree:#2e4a24;--gnd:#555"/>
<use href="#land" x="2721" y="1342" width="117" height="119" style="--sky:#d8b8b0;--rock:#6e625e;--tree:#4a4a40;--gnd:#5a5248"/>
<use href="#land" x="2838" y="1342" width="114" height="119" style="--sky:#3a2a2a;--rock:#d8d0d0;--tree:#b02020;--gnd:#b02020"/>
<use href="#land" x="2952" y="1342" width="110" height="119" style="--sky:#4a4a30;--rock:#2a2a22;--tree:#262620;--gnd:#3a3a30"/>
<ellipse cx="3005" cy="1398" rx="22" ry="7" fill="#c8e050"/>
<!-- row c -->
<use href="#face" x="1798" y="1461" width="117" height="118" style="--bg:#7d7f82;--hair:#1a1614;--skin:#c4967a;--cloth:#2a2a2a;--gl:1"/>
<use href="#face" x="1915" y="1461" width="116" height="118" style="--bg:#8c8c8c;--hair:#8a5a3a;--skin:#d8907a;--cloth:#222;--gl:0"/>
<use href="#face" x="2031" y="1461" width="112" height="118" style="--bg:#6e5a48;--hair:#3a2a20;--skin:#d8a890;--cloth:#3a2a20;--gl:1"/>
<use href="#face" x="2143" y="1461" width="117" height="118" style="--bg:#6e7a5c;--hair:#3a2a20;--skin:#a88068;--cloth:#5e6e4e;--gl:0"/>
<use href="#face" x="2260" y="1461" width="115" height="118" style="--bg:#1e1a18;--hair:#0e0c0c;--skin:#efd4c8;--cloth:#111;--gl:0"/>
<use href="#face" x="2375" y="1461" width="113" height="118" style="--bg:#c4c4c4;--hair:#c8b8a8;--skin:#d8b0a0;--cloth:#3a5a8a;--gl:0"/>
<use href="#land" x="2488" y="1461" width="115" height="118" style="--sky:#8ab0e0;--rock:#a4aab0;--tree:#3c5a3a;--gnd:#7a8a5a"/>
<use href="#land" x="2603" y="1461" width="118" height="118" style="--sky:#6a98d8;--rock:#9a9a98;--tree:#34503a;--gnd:#606870"/>
<use href="#land" x="2721" y="1461" width="117" height="118" style="--sky:#d8c0b8;--rock:#6e625e;--tree:#4a4a40;--gnd:#5a5248"/>
<use href="#land" x="2838" y="1461" width="114" height="118" style="--sky:#e0d8c0;--rock:#d0c8b0;--tree:#a08050;--gnd:#c8b898"/>
<use href="#land" x="2952" y="1461" width="110" height="118" style="--sky:#8a7a5a;--rock:#6a6a50;--tree:#c09060;--gnd:#a08060"/>
<!-- row d -->
<use href="#pm" x="1798" y="1579" width="117" height="118" style="--base:#9e6660;--lt:#b07c72;--dk:#d8b0a0;--o:.8"/>
<use href="#pm" x="1915" y="1579" width="116" height="118" style="--base:#9e6660;--lt:#b07c72;--dk:#d8b0a0;--o:.8"/>
<use href="#pm" x="2031" y="1579" width="112" height="118" style="--base:#c89488;--lt:#dcb0a2;--dk:#b07c72;--o:.6"/>
<use href="#pm" x="2143" y="1579" width="117" height="118" style="--base:#c08a80;--lt:#d8aa9a;--dk:#b07c72;--o:.6"/>
<use href="#pm" x="2260" y="1579" width="115" height="118" style="--base:#b8827a;--lt:#d4a698;--dk:#9a6860;--o:.6"/>
<use href="#pm" x="2375" y="1579" width="113" height="118" style="--base:#b8827a;--lt:#dab2a0;--dk:#9a6860;--o:.6"/>
<use href="#pl" x="2488" y="1579" width="115" height="118" style="--base:#e4c0ae;--lt:#dcb4a2;--dk:#c49888;--o:.5"/>
<use href="#pl" x="2603" y="1579" width="118" height="118" style="--base:#e6c4b2;--lt:#dcb6a4;--dk:#c49888;--o:.5"/>
<use href="#pl" x="2721" y="1579" width="117" height="118" style="--base:#e2beac;--lt:#d8b0a0;--dk:#c49888;--o:.5"/>
<use href="#pl" x="2838" y="1579" width="114" height="118" style="--base:#e0bcaa;--lt:#d6ae9e;--dk:#b08070;--o:.5"/>
<use href="#pl" x="2952" y="1579" width="110" height="118" style="--base:#e8c8b8;--lt:#dcb8a8;--dk:#b08070;--o:.5"/>
<!-- row e -->
<use href="#pm" x="1798" y="1697" width="117" height="120" style="--base:#a46a64;--lt:#b07872;--dk:#3a1a1a"/>
<use href="#pm" x="1915" y="1697" width="116" height="120" style="--base:#a46a64;--lt:#b47e76;--dk:#3a1a1a"/>
<use href="#pm" x="2031" y="1697" width="112" height="120" style="--base:#a46a64;--lt:#b07872;--dk:#3a1a1a"/>
<use href="#pm" x="2143" y="1697" width="117" height="120" style="--base:#a46a64;--lt:#b07872;--dk:#3a1a1a"/>
<use href="#pm" x="2260" y="1697" width="115" height="120" style="--base:#a46a64;--lt:#b07872;--dk:#3a1a1a"/>
<use href="#pm" x="2375" y="1697" width="113" height="120" style="--base:#a46a64;--lt:#b07872;--dk:#3a1a1a;--o:.5"/>
<use href="#pl" x="2488" y="1697" width="115" height="120" style="--base:#6a3634;--lt:#74403c;--dk:#1a0808"/>
<use href="#pl" x="2603" y="1697" width="118" height="120" style="--base:#74403c;--lt:#7a4642;--dk:#1a0808;--o:.6"/>
<use href="#pl" x="2721" y="1697" width="117" height="120" style="--base:#7e4844;--lt:#844e4a;--dk:#1a0808;--o:.4"/>
<use href="#pl" x="2838" y="1697" width="114" height="120" style="--base:#8a5450;--lt:#925c58;--dk:#1a0808;--o:.7"/>
<use href="#pl" x="2952" y="1697" width="110" height="120" style="--base:#c48c84;--lt:#c0887e;--dk:#5a2a28;--o:.4"/>
<!-- row f -->
<use href="#pm" x="1798" y="1817" width="117" height="118" style="--base:#ac746c;--lt:#c08e84;--dk:#3a1a1a"/>
<use href="#pm" x="1915" y="1817" width="116" height="118" style="--base:#ac746c;--lt:#c4968a;--dk:#3a1a1a"/>
<use href="#pm" x="2031" y="1817" width="112" height="118" style="--base:#ac746c;--lt:#c08e84;--dk:#3a1a1a"/>
<use href="#pm" x="2143" y="1817" width="117" height="118" style="--base:#ac746c;--lt:#c08e84;--dk:#3a1a1a;--o:.6"/>
<use href="#pm" x="2260" y="1817" width="115" height="118" style="--base:#b07870;--lt:#c8988c;--dk:#3a1a1a"/>
<use href="#pm" x="2375" y="1817" width="113" height="118" style="--base:#b07870;--lt:#c8988c;--dk:#3a1a1a;--o:.5"/>
<use href="#pl" x="2488" y="1817" width="115" height="118" style="--base:#d8aa98;--lt:#e0b8a6;--dk:#2a0a0a"/>
<use href="#pl" x="2603" y="1817" width="118" height="118" style="--base:#dcae9c;--lt:#c8988a;--dk:#2a0a0a;--o:.6"/>
<use href="#pl" x="2721" y="1817" width="117" height="118" style="--base:#c8928a;--lt:#d0a096;--dk:#5a2a28;--o:.3"/>
<use href="#pl" x="2838" y="1817" width="114" height="118" style="--base:#e2bca8;--lt:#dab4a2;--dk:#2a0a0a;--o:.5"/>
<use href="#pl" x="2952" y="1817" width="110" height="118" style="--base:#d8a898;--lt:#cc9a8c;--dk:#5a2a28;--o:.4"/>

<!-- Unseen attribute modifications -->
<text class="h" x="1572" y="2018" textLength="1056" lengthAdjust="spacingAndGlyphs">Unseen Attribute Modifications</text>
<rect x="1581" y="2061" width="867" height="69" fill="#efefef"/>
<rect x="1581" y="2162" width="867" height="30" fill="#efefef"/>
<g stroke="#333" fill="none">
<path d="M1581 2061 H2448" stroke-width="2.5"/>
<path d="M1693 2098 H2448" stroke-width="1.2"/>
<path d="M1581 2130 H2448" stroke-width="1.5"/>
<path d="M1581 2192 H2448 M1581 2198 H2448" stroke-width="1.5"/>
<path d="M1693 2061 V2192 M2095 2061 V2192" stroke-width="1.5"/>
<path d="M1808 2098 V2192 M1950 2098 V2192 M2211 2098 V2192 M2326 2098 V2192" stroke-width="1.2"/>
</g>
<g class="r" font-size="27" text-anchor="middle">
<text x="1637" y="2106">Method</text>
<text x="1894" y="2090" textLength="294" lengthAdjust="spacingAndGlyphs">Cosine similarity ↑(AttGAN)</text>
<text x="2272" y="2090" textLength="318" lengthAdjust="spacingAndGlyphs">Cosine similarity ↑ (StyleGAN)</text>
<text x="1750" y="2120">Bald</text><text x="1880" y="2120">Black Hair</text><text x="2023" y="2120">Eyeglasses</text>
<text x="2153" y="2120">Smile</text><text x="2268" y="2120">Age</text><text x="2387" y="2120">Gender</text>
<text x="1637" y="2152">[<tspan fill="#00cc00">21</tspan>]</text>
<text x="1750" y="2152">0.8141</text><text x="1880" y="2152">0.6932</text><text x="2023" y="2152">0.6950</text>
<text x="2153" y="2152">0.6176</text><text x="2268" y="2152">0.3141</text><text x="2387" y="2152">0.6470</text>
<text x="1637" y="2183">MaLP</text>
<g font-weight="bold">
<text x="1750" y="2183">0.8201</text><text x="1880" y="2183">0.7940</text><text x="2023" y="2183">0.8557</text>
<text x="2153" y="2183">0.8159</text><text x="2268" y="2183">0.8255</text><text x="2387" y="2183">0.8016</text>
</g>
</g>
<g class="s" font-size="31">
<text x="2494" y="2113" textLength="509" lengthAdjust="spacingAndGlyphs">MaLP is <tspan font-weight="bold">more generalizable</tspan> to all</text>
<text x="2494" y="2152" textLength="452" lengthAdjust="spacingAndGlyphs"><tspan font-weight="bold">unseen attribute</tspan> modifications.</text>
</g>

<!-- ================= RIGHT PANEL ================= -->
<text class="h" x="3146" y="445" textLength="1204" lengthAdjust="spacingAndGlyphs">Comparison with Passive Schemes</text>
<rect x="3146" y="475" width="774" height="65" fill="#efefef"/>
<rect x="3146" y="569" width="774" height="30" fill="#efefef"/>
<g stroke="#333" fill="none">
<path d="M3146 475 H3920" stroke-width="2"/>
<path d="M3146 482 H3920" stroke-width="1.5"/>
<path d="M3250 511 H3920" stroke-width="1.2"/>
<path d="M3146 540 H3920" stroke-width="1.5"/>
<path d="M3146 627 H3920" stroke-width="1.5"/>
<path d="M3146 634 H3920" stroke-width="2"/>
<path d="M3250 482 V627 M3574 482 V627" stroke-width="1.5"/>
<path d="M3358 511 V627 M3466 511 V627 M3713 511 V627 M3821 511 V627" stroke-width="1.2"/>
</g>
<g class="r" font-size="26" text-anchor="middle">
<text x="3198" y="520">Method</text>
<text x="3412" y="503">Localization</text><text x="3747" y="503">Detection</text>
<text x="3304" y="533">CS ↑</text><text x="3412" y="533">PSNR ↑</text><text x="3520" y="533">SSIM ↑</text>
<text x="3643" y="533">Accuracy ↑</text><text x="3767" y="533">EER ↓</text><text x="3870" y="533">AUC ↑</text>
<text x="3198" y="562">[<tspan fill="#00cc00">11</tspan>]</text>
<text x="3304" y="562">0.6230</text><text x="3412" y="562">6.214</text><text x="3520" y="562">0.2178</text>
<text x="3643" y="562">0.9975</text><text x="3767" y="562" font-weight="bold">0.0050</text><text x="3870" y="562">0.9975</text>
<text x="3198" y="590">[<tspan fill="#00cc00">21</tspan>]</text>
<text x="3304" y="590">0.8831</text><text x="3412" y="590">22.890</text><text x="3520" y="590" font-weight="bold">0.7876</text>
<text x="3643" y="590">0.9945</text><text x="3767" y="590">0.0077</text><text x="3870" y="590">0.9998</text>
<text x="3198" y="618">MaLP</text>
<text x="3304" y="618" font-weight="bold">0.9394</text><text x="3412" y="618" font-weight="bold">23.020</text><text x="3520" y="618">0.7312</text>
<text x="3643" y="618" font-weight="bold">0.9991</text><text x="3767" y="618">0.0072</text><text x="3870" y="618" font-weight="bold">1.0</text>
</g>
<g class="s" font-size="34">
<text x="3977" y="529" textLength="484" lengthAdjust="spacingAndGlyphs">MaLP <tspan font-weight="bold">performs better</tspan> than prior</text>
<text x="3977" y="567" class="b" textLength="118" lengthAdjust="spacingAndGlyphs">passive</text>
<text x="4131" y="567" class="b" textLength="135" lengthAdjust="spacingAndGlyphs">schemes</text>
<text x="4302" y="567" textLength="37" lengthAdjust="spacingAndGlyphs">for</text>
<text x="4374" y="567" textLength="87" lengthAdjust="spacingAndGlyphs">image</text>
<text x="3977" y="605" textLength="352" lengthAdjust="spacingAndGlyphs">manipulation localization.</text>
</g>

<text class="h" x="3148" y="718" textLength="1265" lengthAdjust="spacingAndGlyphs">Generalization across Unknown GMs</text>
<!-- small plots -->
<rect x="3244" y="750" width="250" height="245" fill="#fff" stroke="#777" stroke-width="1.5"/>
<rect x="3680" y="750" width="252" height="245" fill="#fff" stroke="#777" stroke-width="1.5"/>
<rect x="4113" y="753" width="252" height="246" fill="#fff" stroke="#777" stroke-width="1.5"/>
<g transform="translate(3255,984) scale(570,-540) translate(-0.6,-0.6)">
<polygon points="0.6,0.6 0.6,1.013 1,1.013 1,1" fill="#cde6cd"/><polygon points="0.6,0.6 1,1 1,0.6" fill="#fdcbcb"/>
</g>
<g transform="translate(3691,984) scale(572.5,-540) translate(-0.6,-0.6)">
<polygon points="0.6,0.6 0.6,1.013 1,1.013 1,1" fill="#cde6cd"/><polygon points="0.6,0.6 1,1 1,0.6" fill="#fdcbcb"/>
</g>
<g transform="translate(4124,988) scale(572.5,-542.5) translate(-0.6,-0.6)">
<polygon points="0.6,0.6 0.6,1.013 1,1.013 1,1" fill="#cde6cd"/><polygon points="0.6,0.6 1,1 1,0.6" fill="#fdcbcb"/>
</g>
<g stroke="#000" stroke-width="2" stroke-dasharray="7 4">
<line x1="3255" y1="984" x2="3483" y2="768"/>
<line x1="3691" y1="984" x2="3920" y2="768"/>
<line x1="4124" y1="988" x2="4353" y2="771"/>
</g>
<g transform="translate(3255,984) scale(570,-540) translate(-0.6,-0.6)"><use href="#pts1"/></g>
<g transform="translate(3691,984) scale(572.5,-540) translate(-0.6,-0.6)"><use href="#pts2"/></g>
<g transform="translate(4124,988) scale(572.5,-542.5) translate(-0.6,-0.6)"><use href="#pts3"/></g>
<g class="r b" font-size="19" text-anchor="end">
<text x="3238" y="774">1.0</text><text x="3238" y="828">0.9</text><text x="3238" y="882">0.8</text><text x="3238" y="936">0.7</text><text x="3238" y="990">0.6</text>
<text x="3674" y="774">1.0</text><text x="3674" y="828">0.9</text><text x="3674" y="882">0.8</text><text x="3674" y="936">0.7</text><text x="3674" y="990">0.6</text>
<text x="4109" y="777">1.0</text><text x="4109" y="831">0.9</text><text x="4109" y="886">0.8</text><text x="4109" y="940">0.7</text><text x="4109" y="994">0.6</text>
</g>
<g class="r b" font-size="19" text-anchor="middle">
<text x="3255" y="1011">0.6</text><text x="3312" y="1011">0.7</text><text x="3369" y="1011">0.8</text><text x="3426" y="1011">0.9</text><text x="3483" y="1011">1.0</text>
<text x="3691" y="1011">0.6</text><text x="3748" y="1011">0.7</text><text x="3805" y="1011">0.8</text><text x="3863" y="1011">0.9</text><text x="3920" y="1011">1.0</text>
<text x="4124" y="1015">0.6</text><text x="4181" y="1015">0.7</text><text x="4238" y="1015">0.8</text><text x="4296" y="1015">0.9</text><text x="4353" y="1015">1.0</text>
</g>
<g class="r b" font-size="22" text-anchor="middle">
<text x="3367" y="1029">Resnet50 CS</text>
<text x="3805" y="1029">Chai et al. CS</text>
<text x="4239" y="1032">Dang et al. CS</text>
<text transform="translate(3214,873) rotate(-90)">MaLP CS</text>
<text transform="translate(3648,873) rotate(-90)">MaLP CS</text>
<text transform="translate(4082,877) rotate(-90)">MaLP CS</text>
</g>
<text x="3312" y="1080" class="s" font-size="31" textLength="992" lengthAdjust="spacingAndGlyphs"><tspan font-weight="bold">Better performance</tspan> of our framework across multiple <tspan font-weight="bold">unknown GMs</tspan></text>

<text class="h" x="3149" y="1165" textLength="746" lengthAdjust="spacingAndGlyphs">Improving GM Quality</text>
<g class="s" font-size="28" text-anchor="middle">
<text x="3226" y="1291" textLength="178" lengthAdjust="spacingAndGlyphs">(a) Input image</text>
<text x="3224" y="1463" textLength="188" lengthAdjust="spacingAndGlyphs">(b) Manipulated</text>
<text x="3224" y="1496" textLength="118" lengthAdjust="spacingAndGlyphs">image (G)</text>
<text x="3224" y="1653" textLength="185" lengthAdjust="spacingAndGlyphs">(c) Manipulated</text>
<text x="3224" y="1685" textLength="219" lengthAdjust="spacingAndGlyphs">image (G + MaLP)</text>
</g>
<!-- faces right -->
<use href="#face" x="3339" y="1211" width="143" height="144" style="--bg:#cfc9c0;--hair:#9a7448;--skin:#dcae96;--cloth:#555;--gl:0"/>
<use href="#face" x="3482" y="1211" width="147" height="144" style="--bg:#b0b0b0;--hair:#3a3028;--skin:#d8ac96;--cloth:#333;--gl:1"/>
<use href="#face" x="3629" y="1211" width="147" height="144" style="--bg:#7a9a58;--hair:#5a4838;--skin:#e2b8a4;--cloth:#6a7a4a;--gl:1"/>
<use href="#face" x="3776" y="1211" width="139" height="144" style="--bg:#454545;--hair:#2a2018;--skin:#c48e78;--cloth:#222;--gl:0"/>
<use href="#face" x="3339" y="1398" width="143" height="145" style="--bg:#c8c4bc;--hair:#8a7858;--skin:#c9a08e;--cloth:#555;--gl:0"/>
<use href="#face" x="3482" y="1398" width="147" height="145" style="--bg:#a8a8a0;--hair:#4a4038;--skin:#cfa892;--cloth:#333;--gl:1"/>
<use href="#face" x="3629" y="1398" width="147" height="145" style="--bg:#5a7a3a;--hair:#3a2a20;--skin:#b05a48;--cloth:#4a5a3a;--gl:1"/>
<use href="#face" x="3776" y="1398" width="139" height="145" style="--bg:#4a4a4a;--hair:#3a2a22;--skin:#a85a58;--cloth:#222;--gl:0"/>
<use href="#face" x="3339" y="1585" width="143" height="144" style="--bg:#cac4bc;--hair:#8a6a48;--skin:#c87a6a;--cloth:#555;--gl:0"/>
<use href="#face" x="3482" y="1585" width="147" height="144" style="--bg:#b0aca4;--hair:#3a3028;--skin:#d0957f;--cloth:#333;--gl:1"/>
<use href="#face" x="3629" y="1585" width="147" height="144" style="--bg:#6e8e50;--hair:#4a3a30;--skin:#c88a78;--cloth:#5a6a40;--gl:1"/>
<use href="#face" x="3776" y="1585" width="139" height="144" style="--bg:#4a4a4a;--hair:#2a2018;--skin:#b07064;--cloth:#222;--gl:0"/>
<g class="r b" font-size="25" text-anchor="middle">
<text x="3409" y="1392">0.58</text><text x="3553" y="1392">0.62</text><text x="3698" y="1391">0.61</text><text x="3842" y="1391">0.59</text>
<text x="3409" y="1582">0.42</text><text x="3553" y="1582">0.45</text><text x="3698" y="1580">0.40</text><text x="3842" y="1581">0.44</text>
</g>
<g class="s" font-size="32" text-anchor="middle">
<text x="4187" y="1309" textLength="438" lengthAdjust="spacingAndGlyphs"><tspan font-weight="bold">Improved visual quality</tspan> when</text>
<text x="4188" y="1348" textLength="382" lengthAdjust="spacingAndGlyphs">GM is finetuned with MaLP</text>
<text x="4216" y="1658" textLength="235" lengthAdjust="spacingAndGlyphs">FID is <tspan font-weight="bold">improved</tspan></text>
</g>
<!-- FID table -->
<rect x="3941" y="1439" width="532" height="44" fill="#efefef"/>
<rect x="3941" y="1519" width="532" height="73" fill="#efefef"/>
<g stroke="#333" fill="none">
<path d="M3941 1439 H4473" stroke-width="2"/>
<path d="M3941 1483 H4473 M3941 1519 H4473 M3941 1592 H4473" stroke-width="1.5"/>
<path d="M3941 1599 H4473" stroke-width="2"/>
<path d="M4059 1439 V1592 M4249 1439 V1592" stroke-width="1.5"/>
</g>
<g class="r" font-size="29" text-anchor="middle">
<text x="4000" y="1473" textLength="56" lengthAdjust="spacingAndGlyphs">State</text>
<text x="4155" y="1473" textLength="110" lengthAdjust="spacingAndGlyphs">Fine-tune</text>
<text x="4362" y="1473" textLength="184" lengthAdjust="spacingAndGlyphs">StarGAN FID ↓</text>
<text x="4000" y="1508">Before</text><text x="4155" y="1508">–</text><text x="4362" y="1508">60.49</text>
<text x="4000" y="1563">After</text>
<text x="4155" y="1546" font-style="italic">G</text>
<text x="4362" y="1546" font-weight="bold">51.91</text>
<text x="4155" y="1579" font-style="italic">G + MaLP</text>
<text x="4362" y="1579">52.07</text>
</g>

<!-- Key takeaways -->
<text class="h" x="3146" y="1815" textLength="522" lengthAdjust="spacingAndGlyphs">Key Takeaways</text>
<g fill="#fff" stroke="#000" stroke-width="2.5">
<rect x="3133" y="1867" width="25" height="25"/>
<rect x="3133" y="1919" width="25" height="25"/>
<rect x="3133" y="1971" width="25" height="25"/>
<rect x="3133" y="2073" width="25" height="25"/>
<rect x="3133" y="2175" width="25" height="25"/>
</g>
<g fill="#000">
<rect x="3158" y="1870" width="4" height="25"/><rect x="3136" y="1892" width="26" height="4"/>
<rect x="3158" y="1922" width="4" height="25"/><rect x="3136" y="1944" width="26" height="4"/>
<rect x="3158" y="1974" width="4" height="25"/><rect x="3136" y="1996" width="26" height="4"/>
<rect x="3158" y="2076" width="4" height="25"/><rect x="3136" y="2098" width="26" height="4"/>
<rect x="3158" y="2178" width="4" height="25"/><rect x="3136" y="2200" width="26" height="4"/>
</g>
<g class="s" font-size="42">
<text x="3164" y="1894" textLength="1236" lengthAdjust="spacingAndGlyphs"><tspan font-weight="bold">Proactive</tspan> schemes are beneficial for <tspan font-weight="bold">manipulation localization.</tspan></text>
<text x="3164" y="1946" textLength="1287" lengthAdjust="spacingAndGlyphs">The <tspan font-weight="bold">template</tspan> to encrypt the images is estimated using <tspan font-weight="bold">constraints</tspan>.</text>
<text x="3164" y="1998" textLength="1193" lengthAdjust="spacingAndGlyphs">MaLP achieves <tspan font-weight="bold">better generalization</tspan> across unseen GMs and</text>
<text x="3164" y="2049" textLength="407" lengthAdjust="spacingAndGlyphs">attribute modification.</text>
<text x="3164" y="2100" textLength="1309" lengthAdjust="spacingAndGlyphs"><tspan font-weight="bold">A generalization benchmark</tspan> for manipulation localization consisting</text>
<text x="3164" y="2150" textLength="708" lengthAdjust="spacingAndGlyphs">of evaluation on <tspan font-weight="bold">22 GMs</tspan> is proposed.</text>
<text x="3164" y="2202" textLength="1326" lengthAdjust="spacingAndGlyphs">MaLP can act as <tspan font-weight="bold">discriminator</tspan> for improving GM’s generation quality.</text>
</g>
</svg>
</body></html>
